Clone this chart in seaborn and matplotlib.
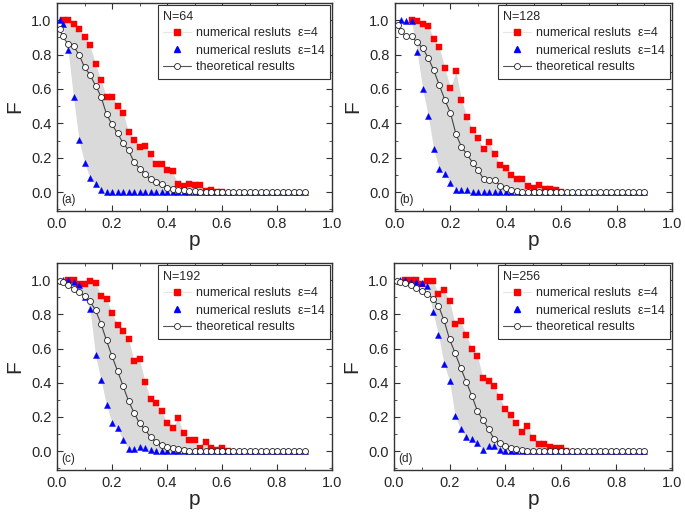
import numpy as np
import pandas as pd
import matplotlib
matplotlib.use("Agg")
import matplotlib.pyplot as plt
import seaborn as sns
from matplotlib.lines import Line2D
from matplotlib.ticker import MultipleLocator

sns.set_theme(style="ticks")
plt.rcParams["font.family"] = ["Liberation Sans", "DejaVu Sans"]

nan = np.nan

# x grid (p)
p = [0.01, 0.02, 0.04, 0.06, 0.08, 0.10, 0.12, 0.14, 0.16, 0.18, 0.20,
     0.22, 0.24, 0.26, 0.28, 0.30, 0.32, 0.34, 0.36, 0.38, 0.40,
     0.42, 0.44, 0.46, 0.48, 0.50, 0.52, 0.54, 0.56, 0.58, 0.60,
     0.62, 0.64, 0.66, 0.68, 0.70, 0.72, 0.74, 0.76, 0.78, 0.80,
     0.82, 0.84, 0.86, 0.88, 0.90]

Z19 = [0.0] * 19

# ---- panel (a) N=64
theory_a = [0.95, 0.906, 0.862, 0.848, 0.80, 0.727, 0.682, 0.62, 0.556, 0.453, 0.394,
            0.341, 0.287, 0.244, 0.175, 0.137, 0.107, 0.074, 0.058, 0.049, 0.026,
            0.02, 0.015, 0.01, 0.006, 0.004, 0.002] + Z19
eps4_a = [nan, 1.0, 1.0, 0.975, 0.951, 0.90, 0.854, 0.745, 0.653, 0.556, 0.556,
          0.501, 0.462, 0.351, 0.302, 0.263, 0.269, 0.22, 0.162, 0.162, 0.131,
          0.121, 0.045, 0.033, 0.049, 0.043, 0.043, 0.005, 0.012, 0.0, 0.0] + [nan] * 15
eps14_a = [1.0, 0.975, 0.829, 0.552, 0.302, 0.172, 0.082, 0.045, 0.014] + [0.0] * 37

# ---- panel (b) N=128
theory_b = [0.97, 0.94, 0.906, 0.906, 0.871, 0.838, 0.78, 0.708, 0.622, 0.536, 0.462,
            0.337, 0.263, 0.219, 0.172, 0.127, 0.076, 0.068, 0.068, 0.037, 0.023,
            0.014, 0.006, 0.003, 0.002, 0.001, 0.0] + Z19
eps4_b = [nan, nan, nan, 1.0, 0.994, 0.975, 0.965, 0.893, 0.842, 0.722, 0.605,
          0.702, 0.536, 0.439, 0.361, 0.316, 0.25, 0.292, 0.22, 0.16, 0.14,
          0.10, 0.078, 0.078, 0.033, 0.023, 0.04, 0.016, 0.02, 0.01, 0.0] + [nan] * 15
eps14_b = [nan, 1.0, 0.994, 0.994, 0.815, 0.60, 0.444, 0.248, 0.137, 0.107, 0.055,
           0.014, 0.014, 0.014] + [0.0] * 32

# ---- panel (c) N=192
theory_c = [0.995, 0.99, 0.97, 0.95, 0.93, 0.908, 0.876, 0.824, 0.745, 0.647, 0.555,
            0.47, 0.382, 0.294, 0.225, 0.163, 0.127, 0.082, 0.055, 0.039, 0.025,
            0.016, 0.01, 0.006, 0.003, 0.001, 0.0] + Z19
eps4_c = [nan, nan, 1.0, 1.0, 0.98, 0.975, 0.994, 0.984, 0.91, 0.89, 0.81,
          0.74, 0.70, 0.657, 0.53, 0.54, 0.406, 0.304, 0.284, 0.235, 0.167,
          0.133, 0.192, 0.108, 0.063, 0.063, 0.016, 0.053, 0.016, 0.005, 0.016,
          0.0] + [nan] * 14
eps14_c = [nan, 1.0, 1.0, 0.99, 0.97, 0.90, 0.83, 0.56, 0.417, 0.269, 0.167,
           0.138, 0.065, 0.014, 0.014, 0.025, 0.016, 0.004] + [0.0] * 28

# ---- panel (d) N=256
theory_d = [0.995, 0.99, 0.984, 0.97, 0.955, 0.937, 0.92, 0.892, 0.849, 0.765, 0.653,
            0.573, 0.486, 0.406, 0.324, 0.235, 0.182, 0.127, 0.073, 0.049, 0.029,
            0.02, 0.01, 0.006, 0.003, 0.001, 0.0] + Z19
eps4_d = [nan, nan, 1.0, 1.0, 1.0, 0.98, 0.994, 0.994, 0.92, 0.94, 0.876,
          0.745, 0.76, 0.68, 0.598, 0.559, 0.427, 0.408, 0.382, 0.318, 0.245,
          0.212, 0.167, 0.114, 0.147, 0.078, 0.043, 0.043, 0.024, 0.016, 0.016,
          0.0] + [nan] * 14
eps14_d = [nan, 1.0, 1.0, 0.99, 0.99, 0.985, 0.967, 0.814, 0.68, 0.51, 0.41,
           0.206, 0.127, 0.084, 0.069, 0.049, 0.004, 0.029, 0.029, 0.004] + [0.0] * 26

panels = [
    ("N=64", "(a)", theory_a, eps4_a, eps14_a),
    ("N=128", "(b)", theory_b, eps4_b, eps14_b),
    ("N=192", "(c)", theory_c, eps4_c, eps14_c),
    ("N=256", "(d)", theory_d, eps4_d, eps14_d),
]

label4 = "numerical resluts  \u03b5=4"
label14 = "numerical resluts  \u03b5=14"
label_th = "theoretical results"

RED = "#ff0000"
BLUE = "#0000ff"
FILL = "#dadada"
EDGE = "#333333"

W, H = 685, 512
rects = [(57, 3, 332, 211), (395, 3, 672, 211),
         (57, 263, 332, 470), (394, 263, 672, 470)]

fig = plt.figure(figsize=(W / 100, H / 100), dpi=100)

for (title, tag, th, e4, e14), (l, t, r, b) in zip(panels, rects):
    ax = fig.add_axes([l / W, 1 - b / H, (r - l) / W, (b - t) / H])
    df = pd.DataFrame({"p": p, "theory": th, "e4": e4, "e14": e14})

    ok = df["e4"].notna() & df["e14"].notna()
    ax.fill_between(df["p"], df["e14"], df["e4"], where=ok, color=FILL,
                    linewidth=0, zorder=1, interpolate=False)

    sns.scatterplot(data=df, x="p", y="e4", ax=ax, marker="s", s=15,
                    color=RED, edgecolor=RED, linewidth=0.3, zorder=3, legend=False)
    sns.scatterplot(data=df, x="p", y="e14", ax=ax, marker="^", s=19,
                    color=BLUE, edgecolor=BLUE, linewidth=0.3, zorder=4, legend=False)
    sns.lineplot(data=df, x="p", y="theory", ax=ax, color="#444444", lw=0.8,
                 marker="o", markersize=4.3, markerfacecolor="white",
                 markeredgecolor="#222222", markeredgewidth=0.6, zorder=5,
                 legend=False)

    ax.set_xlim(0, 1.0)
    ax.set_ylim(-0.11, 1.10)
    ax.xaxis.set_minor_locator(MultipleLocator(0.1))
    ax.yaxis.set_minor_locator(MultipleLocator(0.1))
    ax.set_xticks([0.0, 0.2, 0.4, 0.6, 0.8, 1.0])
    ax.set_xticklabels(["0.0", "0.2", "0.4", "0.6", "0.8", "1.0"])
    ax.set_yticks([0.0, 0.2, 0.4, 0.6, 0.8, 1.0])
    ax.set_yticklabels(["0.0", "0.2", "0.4", "0.6", "0.8", "1.0"])
    ax.tick_params(which="both", direction="in", top=True, right=True,
                   color=EDGE, labelsize=10.5, pad=4)
    ax.tick_params(which="major", length=4, width=0.8)
    ax.tick_params(which="minor", length=2.5, width=0.6)
    for sp in ax.spines.values():
        sp.set_color(EDGE)
        sp.set_linewidth(1.0)

    ax.set_xlabel("p", fontsize=15, labelpad=0)
    ax.set_ylabel("F", fontsize=15, labelpad=5)

    ax.text(0.015, 0.025, tag, transform=ax.transAxes, fontsize=8.5,
            ha="left", va="bottom", zorder=6)

    handles = [
        Line2D([], [], color="#e6e6e6", lw=0.8, marker="s", markersize=4,
               markerfacecolor=RED, markeredgecolor=RED),
        Line2D([], [], color="none", lw=0.8, marker="^", markersize=4.5,
               markerfacecolor=BLUE, markeredgecolor=BLUE),
        Line2D([], [], color="#555555", lw=0.8, marker="o", markersize=4.3,
               markerfacecolor="white", markeredgecolor="#222222",
               markeredgewidth=0.6),
    ]
    leg = ax.legend(handles, [label4, label14, label_th], title=title,
                    loc="upper right", fontsize=9, title_fontsize=9,
                    frameon=True, fancybox=False, borderaxespad=0.15,
                    handlelength=2.2, handletextpad=0.4, labelspacing=0.4,
                    borderpad=0.45)
    leg._legend_box.align = "left"
    frame = leg.get_frame()
    frame.set_edgecolor(EDGE)
    frame.set_linewidth(0.8)
    frame.set_alpha(1.0)
    leg.set_zorder(10)

fig.savefig("out.png", dpi=100)
